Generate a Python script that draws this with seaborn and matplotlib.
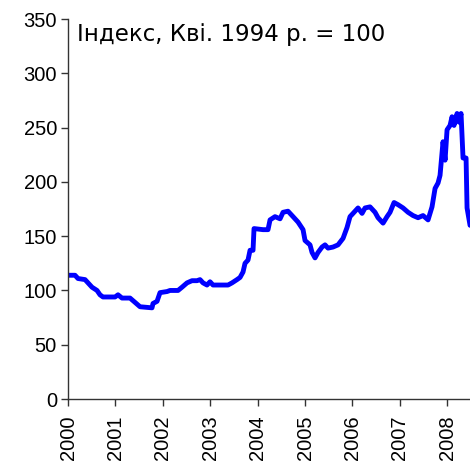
# house price index chart, 2000-2008

import pandas as pd
import seaborn as sns
import matplotlib.pyplot as plt

# Data (decimal year, index Apr 1994 = 100)
years = [2000.000, 2000.148, 2000.211, 2000.359, 2000.422, 2000.506, 2000.612, 2000.675,
         2000.738, 2000.992, 2001.055, 2001.139, 2001.308, 2001.414, 2001.519, 2001.772,
         2001.793, 2001.878, 2001.941, 2002.089, 2002.152, 2002.321, 2002.405, 2002.511,
         2002.616, 2002.722, 2002.785, 2002.848, 2002.932, 2002.996, 2003.059, 2003.376,
         2003.460, 2003.565, 2003.629, 2003.692, 2003.734, 2003.797, 2003.840, 2003.903,
         2003.924, 2004.114, 2004.219, 2004.262, 2004.367, 2004.473, 2004.536, 2004.641,
         2004.747, 2004.852, 2004.958, 2005.000, 2005.105, 2005.148, 2005.211, 2005.274,
         2005.359, 2005.422, 2005.485, 2005.591, 2005.696, 2005.802, 2005.886, 2005.949,
         2006.013, 2006.118, 2006.203, 2006.266, 2006.371, 2006.477, 2006.540, 2006.646,
         2006.730, 2006.793, 2006.878, 2006.962, 2007.068, 2007.173, 2007.278, 2007.384,
         2007.489, 2007.595, 2007.679, 2007.743, 2007.806, 2007.848, 2007.911, 2007.954,
         2007.996, 2008.059, 2008.101, 2008.143, 2008.207, 2008.249, 2008.291, 2008.333,
         2008.397, 2008.418, 2008.481]
index = [114, 114, 111, 110, 107, 103, 100, 96,
         94, 94, 96, 93, 93, 89, 85, 84,
         88, 90, 98, 99, 100, 100, 103, 107,
         109, 109, 110, 107, 105, 108, 105, 105,
         107, 110, 112, 117, 125, 128, 137, 137,
         157, 156, 156, 165, 168, 166, 172, 173,
         168, 163, 156, 146, 142, 135, 130, 135,
         140, 142, 139, 140, 142, 148, 158, 168,
         171, 176, 171, 176, 177, 172, 167, 162,
         168, 172, 181, 179, 176, 172, 169, 167,
         169, 165, 177, 194, 199, 206, 237, 220,
         248, 252, 260, 252, 263, 255, 263, 222,
         222, 176, 160]

year_ticks = list(range(2000, 2009))
value_ticks = list(range(0, 351, 50))
note = "Індекс, Кві. 1994 р. = 100"

df = pd.DataFrame({'year': years, 'index': index})

sns.set_style('white')
plt.rcParams['font.family'] = ['Liberation Sans', 'DejaVu Sans']

fig = plt.figure(figsize=(4.7, 4.7), dpi=100)
ax = fig.add_axes([0.1447, 0.151, 0.8553, 0.8085])

sns.lineplot(data=df, x='year', y='index', color='#0000ff', linewidth=3.5, ax=ax)

ax.set_xlim(2000, 2008.48)
ax.set_ylim(0, 350)
ax.set_xticks(year_ticks)
ax.set_xticklabels([str(y) for y in year_ticks], rotation=90, fontsize=14.5)
ax.set_yticks(value_ticks)
ax.set_yticklabels([str(v) for v in value_ticks], fontsize=14.5)
ax.tick_params(axis='both', direction='out', length=5, width=1, color='#333333',
               labelcolor='black', bottom=True, left=True, pad=3)
ax.tick_params(axis='x', pad=7)
ax.set_xlabel('')
ax.set_ylabel('')

sns.despine(ax=ax)
for side in ['left', 'bottom']:
    ax.spines[side].set_color('#333333')
    ax.spines[side].set_linewidth(1)

ax.text(0.022, 0.99, note, transform=ax.transAxes, ha='left', va='top',
        fontsize=16.5, family='DejaVu Sans', color='black')

fig.savefig('out.png', dpi=100)
